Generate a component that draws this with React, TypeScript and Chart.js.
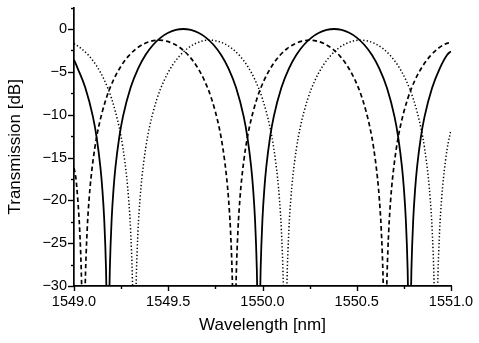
import React, { useEffect, useRef } from 'react';
import { Chart, registerables } from 'chart.js';

Chart.register(...registerables);

// Solid trace (wavelength nm, transmission dB)
const solidX = [
  1549.0, 1549.02, 1549.06, 1549.1, 1549.12, 1549.14, 1549.15, 1549.16, 1549.17, 1549.175, 1549.18,
  1549.185, 1549.19, 1549.2, 1549.21, 1549.22, 1549.24, 1549.26, 1549.3, 1549.34, 1549.38, 1549.42,
  1549.46, 1549.5, 1549.54, 1549.58, 1549.62, 1549.66, 1549.7, 1549.74, 1549.78, 1549.82, 1549.86,
  1549.9, 1549.92, 1549.94, 1549.95, 1549.96, 1549.97, 1549.975, 1549.98, 1549.985, 1549.99, 1550.0,
  1550.01, 1550.02, 1550.04, 1550.06, 1550.1, 1550.14, 1550.18, 1550.22, 1550.26, 1550.3, 1550.34,
  1550.38, 1550.42, 1550.46, 1550.5, 1550.54, 1550.58, 1550.62, 1550.66, 1550.7, 1550.72, 1550.74,
  1550.75, 1550.76, 1550.77, 1550.775, 1550.78, 1550.785, 1550.79, 1550.8, 1550.81, 1550.82, 1550.84,
  1550.86, 1550.9, 1550.94, 1550.98, 1551.0,
];
const solidY = [
  -3.6, -4.62, -6.86, -10.2, -12.64, -16.11, -18.6, -22.1, -28.1, -34.1, -40,
  -34.1, -28.1, -22.1, -18.6, -16.11, -12.64, -10.2, -6.86, -4.62, -3.01, -1.84,
  -1.0, -0.44, -0.11, 0, -0.11, -0.44, -1.0, -1.84, -3.01, -4.62, -6.86,
  -10.2, -12.64, -16.11, -18.6, -22.1, -28.1, -34.1, -40, -34.1, -28.1, -22.1,
  -18.6, -16.11, -12.64, -10.2, -6.86, -4.62, -3.01, -1.84, -1.0, -0.44, -0.11,
  0, -0.11, -0.44, -1.0, -1.84, -3.01, -4.62, -6.86, -10.2, -12.64, -16.11,
  -18.6, -22.1, -28.1, -34.1, -40, -34.1, -28.1, -22.1, -18.6, -16.11, -12.64,
  -10.2, -6.86, -4.62, -3.01, -2.6,
];

// Dashed trace
const dashedX = [
  1549.0, 1549.01, 1549.02, 1549.03, 1549.04, 1549.045, 1549.05, 1549.055, 1549.06, 1549.07, 1549.08,
  1549.09, 1549.11, 1549.13, 1549.17, 1549.21, 1549.25, 1549.29, 1549.33, 1549.37, 1549.41, 1549.45,
  1549.49, 1549.53, 1549.57, 1549.61, 1549.65, 1549.69, 1549.73, 1549.77, 1549.79, 1549.81, 1549.82,
  1549.83, 1549.84, 1549.845, 1549.85, 1549.855, 1549.86, 1549.87, 1549.88, 1549.89, 1549.91, 1549.93,
  1549.97, 1550.01, 1550.05, 1550.09, 1550.13, 1550.17, 1550.21, 1550.25, 1550.29, 1550.33, 1550.37,
  1550.41, 1550.45, 1550.49, 1550.53, 1550.57, 1550.59, 1550.61, 1550.62, 1550.63, 1550.64, 1550.645,
  1550.65, 1550.655, 1550.66, 1550.67, 1550.68, 1550.69, 1550.71, 1550.73, 1550.77, 1550.81, 1550.85,
  1550.89, 1550.93, 1550.97, 1551.0,
];
const dashedY = [
  -16.2, -17.41, -19.9, -23.4, -29.42, -35.4, -40, -35.4, -29.42, -23.4, -19.9,
  -17.41, -13.94, -11.5, -8.16, -5.92, -4.31, -3.14, -2.3, -1.74, -1.41, -1.3,
  -1.41, -1.74, -2.3, -3.14, -4.31, -5.92, -8.16, -11.5, -13.94, -17.41, -19.9,
  -23.4, -29.42, -35.4, -40, -35.4, -29.42, -23.4, -19.9, -17.41, -13.94, -11.5,
  -8.16, -5.92, -4.31, -3.14, -2.3, -1.74, -1.41, -1.3, -1.41, -1.74, -2.3,
  -3.14, -4.31, -5.92, -8.16, -11.5, -13.94, -17.41, -19.9, -23.4, -29.42, -35.4,
  -40, -35.4, -29.42, -23.4, -19.9, -17.41, -13.94, -11.5, -8.16, -5.92, -4.31,
  -3.14, -2.3, -1.74, -1.55,
];

// Dotted trace
const dottedX = [
  1549.0, 1549.04, 1549.08, 1549.12, 1549.16, 1549.2, 1549.24, 1549.26, 1549.28, 1549.29, 1549.3,
  1549.31, 1549.315, 1549.32, 1549.325, 1549.33, 1549.34, 1549.35, 1549.36, 1549.38, 1549.4, 1549.44,
  1549.48, 1549.52, 1549.56, 1549.6, 1549.64, 1549.68, 1549.72, 1549.76, 1549.8, 1549.84, 1549.88,
  1549.92, 1549.96, 1550.0, 1550.04, 1550.06, 1550.08, 1550.09, 1550.1, 1550.11, 1550.115, 1550.12,
  1550.125, 1550.13, 1550.14, 1550.15, 1550.16, 1550.18, 1550.2, 1550.24, 1550.28, 1550.32, 1550.36,
  1550.4, 1550.44, 1550.48, 1550.52, 1550.56, 1550.6, 1550.64, 1550.68, 1550.72, 1550.76, 1550.8,
  1550.84, 1550.86, 1550.88, 1550.89, 1550.9, 1550.91, 1550.915, 1550.92, 1550.925, 1550.93, 1550.94,
  1550.95, 1550.96, 1550.98, 1551.0,
];
const dottedY = [
  -1.7, -2.3, -3.14, -4.31, -5.92, -8.16, -11.5, -13.94, -17.41, -19.9, -23.4,
  -29.42, -35.4, -40, -35.4, -29.42, -23.4, -19.9, -17.41, -13.94, -11.5, -8.16,
  -5.92, -4.31, -3.14, -2.3, -1.74, -1.41, -1.3, -1.41, -1.74, -2.3, -3.14,
  -4.31, -5.92, -8.16, -11.5, -13.94, -17.41, -19.9, -23.4, -29.42, -35.4, -40,
  -35.4, -29.42, -23.4, -19.9, -17.41, -13.94, -11.5, -8.16, -5.92, -4.31, -3.14,
  -2.3, -1.74, -1.41, -1.3, -1.41, -1.74, -2.3, -3.14, -4.31, -5.92, -8.16,
  -11.5, -13.94, -17.41, -19.9, -23.4, -29.42, -35.4, -40, -35.4, -29.42, -23.4,
  -19.9, -17.41, -13.94, -11.8,
];

const xMajorTicks = [1549.0, 1549.5, 1550.0, 1550.5, 1551.0];
const xMinorTicks = [1549.25, 1549.75, 1550.25, 1550.75];
const yMajorTicks = [-30, -25, -20, -15, -10, -5, 0];
const yMinorTicks = [-27.5, -22.5, -17.5, -12.5, -7.5, -2.5, 2.5];

const xTitle = 'Wavelength [nm]';
const yTitle = 'Transmission [dB]';

const FONT = '"Liberation Sans", Arial, Helvetica, sans-serif';

const toPoints = (xs: number[], ys: number[]) => xs.map((x, i) => ({ x, y: ys[i] }));

const tickMarksPlugin = {
  id: 'tickMarks',
  afterDraw(chart: any) {
    const { ctx, chartArea, scales } = chart;
    const x = scales.x;
    const y = scales.y;
    ctx.save();
    ctx.strokeStyle = '#000';
    ctx.lineWidth = 1.4;
    const drawY = (v: number, len: number) => {
      const py = Math.round(y.getPixelForValue(v)) + 0.5;
      ctx.beginPath();
      ctx.moveTo(chartArea.left - len, py);
      ctx.lineTo(chartArea.left, py);
      ctx.stroke();
    };
    const drawX = (v: number, len: number) => {
      const px = Math.round(x.getPixelForValue(v)) + 0.5;
      ctx.beginPath();
      ctx.moveTo(px, chartArea.bottom);
      ctx.lineTo(px, chartArea.bottom + len);
      ctx.stroke();
    };
    yMajorTicks.forEach((v) => drawY(v, 6));
    yMinorTicks.forEach((v) => drawY(v, 3));
    xMajorTicks.forEach((v) => drawX(v, 5));
    xMinorTicks.forEach((v) => drawX(v, 3));
    ctx.restore();
  },
};

export default function App() {
  const canvasRef = useRef<HTMLCanvasElement | null>(null);

  useEffect(() => {
    const canvas = canvasRef.current;
    if (!canvas) return;
    const chart = new Chart(canvas, {
      type: 'line',
      data: {
        datasets: [
          {
            label: 'solid',
            data: toPoints(solidX, solidY),
            borderColor: '#000',
            borderWidth: 1.8,
            pointRadius: 0,
            cubicInterpolationMode: 'monotone',
            fill: false,
          },
          {
            label: 'dashed',
            data: toPoints(dashedX, dashedY),
            borderColor: '#000',
            borderWidth: 1.7,
            borderDash: [4.5, 3],
            pointRadius: 0,
            cubicInterpolationMode: 'monotone',
            fill: false,
          },
          {
            label: 'dotted',
            data: toPoints(dottedX, dottedY),
            borderColor: '#000',
            borderWidth: 1.5,
            borderDash: [1.3, 2.2],
            pointRadius: 0,
            cubicInterpolationMode: 'monotone',
            fill: false,
          },
        ],
      },
      options: {
        responsive: false,
        animation: false,
        events: [],
        layout: { padding: { left: 0, top: 7.6, right: 28, bottom: 0 } },
        plugins: {
          legend: { display: false },
          tooltip: { enabled: false },
        },
        scales: {
          x: {
            type: 'linear',
            min: 1549,
            max: 1551,
            grid: { display: false, drawTicks: false },
            border: { display: true, color: '#000', width: 1.7 },
            ticks: {
              stepSize: 0.5,
              padding: 7,
              color: '#000',
              font: { family: FONT, size: 14.5 },
              maxRotation: 0,
              callback: (v: any) => Number(v).toFixed(1),
            },
            title: {
              display: true,
              text: xTitle,
              color: '#000',
              font: { family: FONT, size: 17 },
              padding: { top: 0, bottom: 7 },
            },
            afterFit: (scale: any) => {
              scale.height = 57;
              scale.paddingLeft = 0;
              scale.paddingRight = 0;
            },
          },
          y: {
            type: 'linear',
            min: -30,
            max: 2.5,
            grid: { display: false, drawTicks: false },
            border: { display: true, color: '#000', width: 1.7 },
            ticks: {
              stepSize: 5,
              includeBounds: false,
              padding: 7,
              color: '#000',
              font: { family: FONT, size: 14.5 },
              callback: (v: any) => (Number(v) === 0 ? '0' : '\u2212' + Math.abs(Number(v))),
            },
            title: {
              display: true,
              text: yTitle,
              color: '#000',
              font: { family: FONT, size: 17 },
              padding: { top: 5, bottom: 0 },
            },
            afterFit: (scale: any) => {
              scale.width = 74;
              scale.paddingTop = 0;
              scale.paddingBottom = 0;
            },
          },
        },
      },
      plugins: [tickMarksPlugin],
    } as any);
    return () => chart.destroy();
  }, []);

  return (
    <div style={{ position: 'absolute', left: 0, top: 0, width: 479, height: 343, background: '#fff' }}>
      <canvas ref={canvasRef} width={479} height={343} style={{ display: 'block', width: 479, height: 343 }} />
    </div>
  );
}
